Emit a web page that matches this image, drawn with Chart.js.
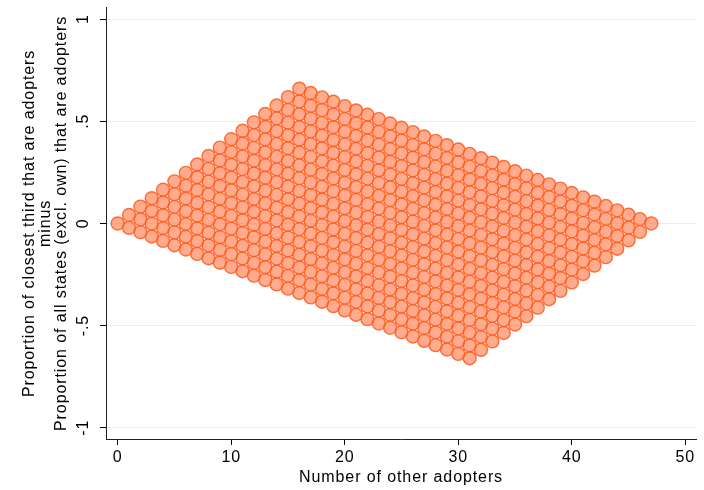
<!DOCTYPE html>
<html>
<head>
<meta charset="utf-8">
<script src="https://cdn.jsdelivr.net/npm/chart.js@4"></script>
<style>
  html, body { margin: 0; padding: 0; background: #fff; }
  canvas { display: block; }
</style>
</head>
<body>
<canvas id="scatter" width="704" height="490"></canvas>
<script>
// number of other adopters (one column of points per value)
const adopters = [0, 1, 2, 3, 4, 5, 6, 7, 8, 9, 10, 11, 12, 13, 14, 15, 16, 17, 18, 19, 20, 21, 22, 23,
                  24, 25, 26, 27, 28, 29, 30, 31, 32, 33, 34, 35, 36, 37, 38, 39, 40, 41, 42, 43, 44, 45, 46, 47];
// lowest and highest count of adopters among the closest third, per column
const nearLow  = [0, 0, 0, 0, 0, 0, 0, 0, 0, 0, 0, 0, 0, 0, 0, 0, 0, 0, 0, 0, 0, 0, 0, 0,
                  0, 0, 0, 0, 0, 0, 0, 0, 1, 2, 3, 4, 5, 6, 7, 8, 9, 10, 11, 12, 13, 14, 15, 16];
const nearHigh = [0, 1, 2, 3, 4, 5, 6, 7, 8, 9, 10, 11, 12, 13, 14, 15, 16, 16, 16, 16, 16, 16, 16, 16,
                  16, 16, 16, 16, 16, 16, 16, 16, 16, 16, 16, 16, 16, 16, 16, 16, 16, 16, 16, 16, 16, 16, 16, 16];
const closestThird = 16;
const otherStates = 47;

const xTicks = [0, 10, 20, 30, 40, 50];
const yTicks = [-1, -0.5, 0, 0.5, 1];
const yTickLabels = ["-1", "-.5", "0", ".5", "1"];

const xTitle = "Number of other adopters";
const yTitle = ["Proportion of closest third that are adopters", "minus",
                "Proportion of all states (excl. own) that are adopters"];

const FONT = "'Liberation Sans', Arial, Helvetica, sans-serif";

function buildPoints() {
    var pts = [];
    for (let i = 0; i < adopters.length; i++) {
        for (let j = nearLow[i]; j <= nearHigh[i]; j++) {
            pts.push({ x: adopters[i], y: j / closestThird - adopters[i] / otherStates });
        }
    }
    return pts;
}

// Stata text is a bit wider than Arial at the same height
const spacingPlugin = {
    id: 'spacing',
    beforeDraw(chart) {
        chart.ctx.letterSpacing = '0.9px';
    }
};

// rotated y tick labels, Stata style
const yLabelPlugin = {
    id: 'yLabels',
    afterDraw(chart) {
        var ctx = chart.ctx;
        var scale = chart.scales.y;
        ctx.save();
        ctx.font = "16px " + FONT;
        ctx.fillStyle = "#000";
        ctx.textAlign = "center";
        ctx.textBaseline = "middle";
        yTicks.forEach((v, i) => {
            var py = scale.getPixelForValue(v);
            ctx.save();
            ctx.translate(84, py);
            ctx.rotate(-Math.PI / 2);
            ctx.fillText(yTickLabels[i], 0, 0);
            ctx.restore();
        });
        ctx.restore();
    }
};

window.onload = function() {
    var ctx = document.getElementById('scatter').getContext('2d');
    new Chart(ctx, {
        type: 'scatter',
        data: {
            datasets: [{
                label: "",
                data: buildPoints(),
                pointRadius: 6.5,
                pointHoverRadius: 6.5,
                borderWidth: 1.4,
                backgroundColor: 'rgba(255, 110, 60, 0.58)',
                borderColor: 'rgba(255, 95, 35, 0.9)'
            }]
        },
        options: {
            responsive: false,
            animation: false,
            devicePixelRatio: 1,
            layout: { padding: { top: 5, right: 4, left: 0, bottom: 0 } },
            plugins: { legend: { display: false }, tooltip: { enabled: false } },
            scales: {
                x: {
                    type: 'linear',
                    min: -1.03,
                    max: 50.95,
                    afterBuildTicks: (scale) => { scale.ticks = xTicks.map(v => ({ value: v })); },
                    afterFit: (scale) => { scale.height = 51; },
                    grid: { drawOnChartArea: false, tickColor: '#000', tickLength: 6, lineWidth: 1 },
                    border: { display: true, color: '#222', width: 1 },
                    ticks: { color: '#000', padding: 3, maxRotation: 0, font: { family: FONT, size: 16 } },
                    title: {
                        display: true, text: xTitle, color: '#000',
                        font: { family: FONT, size: 16 }, padding: { top: 0, bottom: 3 }
                    }
                },
                y: {
                    type: 'linear',
                    min: -1.055,
                    max: 1.055,
                    afterBuildTicks: (scale) => { scale.ticks = yTicks.map(v => ({ value: v })); },
                    afterFit: (scale) => { scale.width = 106; },
                    grid: { color: '#E6EEF1', tickColor: '#000', tickLength: 6, lineWidth: 1 },
                    border: { display: true, color: '#222', width: 1 },
                    ticks: { display: false },
                    title: {
                        display: true, text: yTitle, color: '#000',
                        font: { family: FONT, size: 16, lineHeight: '16.3px' }, padding: { top: 21, bottom: 0 }
                    }
                }
            }
        },
        plugins: [spacingPlugin, yLabelPlugin]
    });
};
</script>
</body>
</html>
